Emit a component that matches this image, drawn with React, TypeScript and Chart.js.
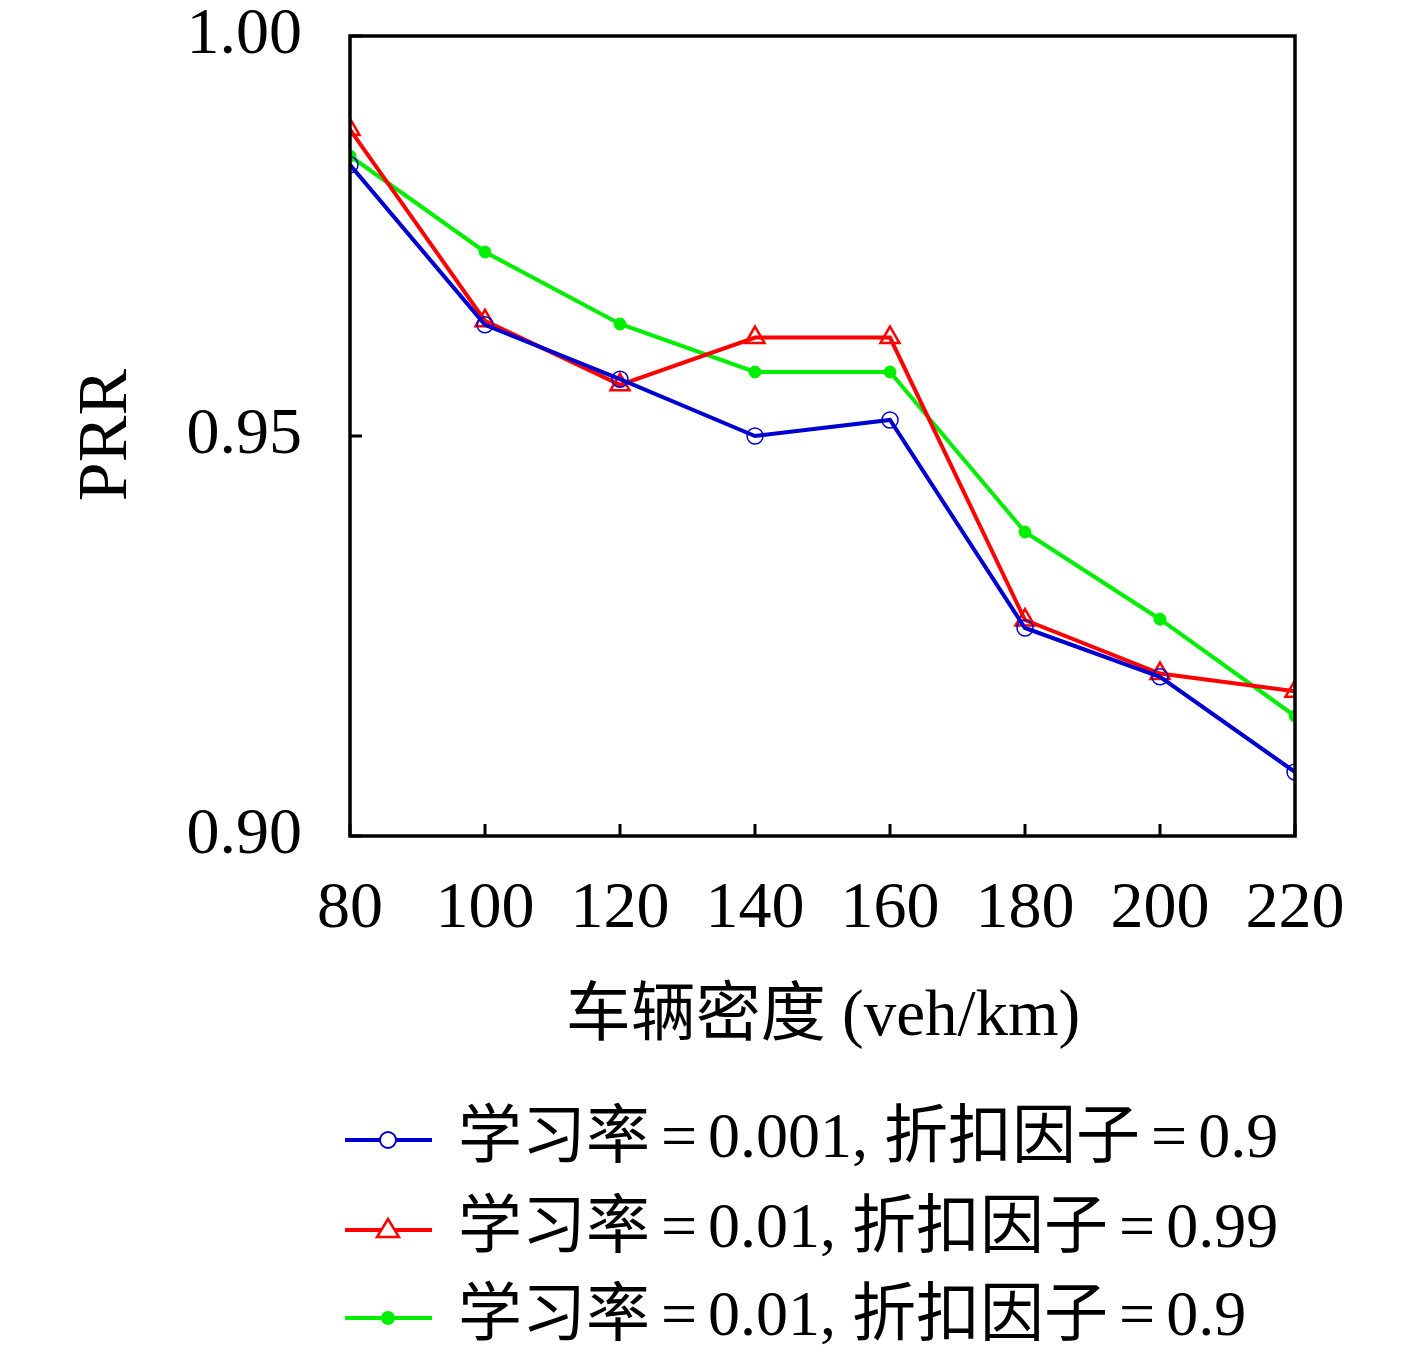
import React, { useEffect, useRef } from "react";
import { Chart, registerables } from "chart.js";

Chart.register(...registerables);

const densities = [80, 100, 120, 140, 160, 180, 200, 220];
const prrLr001Gamma09 = [0.9839, 0.9639, 0.9571, 0.95, 0.952, 0.926, 0.9199, 0.908];
const prrLr01Gamma099 = [0.9883, 0.9644, 0.9564, 0.9623, 0.9623, 0.927, 0.9203, 0.9181];
const prrLr01Gamma09 = [0.985, 0.973, 0.964, 0.958, 0.958, 0.938, 0.9271, 0.915];
const yTicks = [0.9, 0.95, 1.0];

const seriesNames = [
  "学习率=0.001, 折扣因子=0.9",
  "学习率=0.01, 折扣因子=0.99",
  "学习率=0.01, 折扣因子=0.9",
];
const markerKinds = ["openCircle", "openTriangle", "dot"];

const SERIF = "'Liberation Serif', 'DejaVu Serif', 'Noto Sans CJK SC', serif";
const MIXED = "'Liberation Serif', 'Noto Sans CJK SC', serif";

// draws text, giving "=" a bit of room like TeX math spacing
function spacedText(ctx: CanvasRenderingContext2D, text: string, x: number, y: number) {
  const parts = text.split("=");
  let cx = x;
  parts.forEach((p, i) => {
    if (i > 0) {
      cx += 11;
      ctx.fillText("=", cx, y);
      cx += ctx.measureText("=").width + 11;
    }
    ctx.fillText(p, cx, y);
    cx += ctx.measureText(p).width;
  });
}

const framePlugin = {
  id: "frame",
  afterDatasetsDraw(chart: any) {
    const { ctx, chartArea } = chart;
    const xs = chart.scales.x;
    const ys = chart.scales.y;
    ctx.save();
    ctx.strokeStyle = "#000";
    ctx.lineWidth = 3.5;
    ctx.strokeRect(chartArea.left, chartArea.top, chartArea.right - chartArea.left, chartArea.bottom - chartArea.top);
    ctx.lineWidth = 3;
    ctx.beginPath();
    densities.forEach((d) => {
      const px = xs.getPixelForValue(d);
      ctx.moveTo(px, chartArea.bottom);
      ctx.lineTo(px, chartArea.bottom - 12);
    });
    yTicks.forEach((v) => {
      const py = ys.getPixelForValue(v);
      ctx.moveTo(chartArea.left, py);
      ctx.lineTo(chartArea.left + 12, py);
    });
    ctx.stroke();

    // axis titles
    ctx.fillStyle = "#000";
    ctx.font = `65px ${MIXED}`;
    ctx.textAlign = "center";
    ctx.textBaseline = "middle";
    ctx.fillText("车辆密度 (veh/km)", 823, 1018);
    ctx.save();
    ctx.translate(108, 435);
    ctx.rotate(-Math.PI / 2);
    ctx.font = `70px ${SERIF}`;
    ctx.fillText("PRR", 0, 0);
    ctx.restore();

    // legend
    const rows = [1140, 1230, 1318];
    chart.data.datasets.forEach((ds: any, i: number) => {
      const y = rows[i];
      ctx.strokeStyle = ds.borderColor;
      ctx.lineWidth = 4;
      ctx.beginPath();
      ctx.moveTo(345, y);
      ctx.lineTo(432, y);
      ctx.stroke();
      const cx = 388;
      ctx.beginPath();
      if (markerKinds[i] === "openCircle") {
        ctx.arc(cx, y, 8, 0, Math.PI * 2);
        ctx.fillStyle = "#fff";
        ctx.fill();
        ctx.lineWidth = 2;
        ctx.stroke();
      } else if (markerKinds[i] === "openTriangle") {
        ctx.moveTo(cx, y - 11);
        ctx.lineTo(cx + 11, y + 7);
        ctx.lineTo(cx - 11, y + 7);
        ctx.closePath();
        ctx.fillStyle = "#fff";
        ctx.fill();
        ctx.lineWidth = 2.5;
        ctx.stroke();
      } else {
        ctx.arc(cx, y, 7, 0, Math.PI * 2);
        ctx.fillStyle = ds.borderColor;
        ctx.fill();
      }
      ctx.fillStyle = "#000";
      ctx.font = `64px ${MIXED}`;
      ctx.textAlign = "left";
      ctx.textBaseline = "middle";
      spacedText(ctx, seriesNames[i], 458, y);
    });
    ctx.restore();
  },
};

export default function App() {
  const canvasEl = useRef<HTMLCanvasElement>(null);

  useEffect(() => {
    document.body.style.margin = "0";
    if (!canvasEl.current) return;
    const ctx = canvasEl.current.getContext("2d");
    if (!ctx) return;

    const toPoints = (arr: number[]) => densities.map((d, i) => ({ x: d, y: arr[i] }));

    const chart = new Chart(ctx, {
      type: "line",
      data: {
        datasets: [
          {
            label: seriesNames[0],
            data: toPoints(prrLr001Gamma09),
            borderColor: "#0000d0",
            backgroundColor: "rgba(255,255,255,0)",
            borderWidth: 4,
            pointStyle: "circle",
            pointRadius: 8,
            pointBorderWidth: 1.5,
          },
          {
            label: seriesNames[1],
            data: toPoints(prrLr01Gamma099),
            borderColor: "#ff0000",
            backgroundColor: "rgba(255,255,255,0)",
            borderWidth: 4,
            pointStyle: "triangle",
            pointRadius: 11,
            pointBorderWidth: 2.5,
          },
          {
            label: seriesNames[2],
            data: toPoints(prrLr01Gamma09),
            borderColor: "#00ee00",
            backgroundColor: "#00ee00",
            borderWidth: 4,
            pointStyle: "circle",
            pointRadius: 6,
            pointBorderWidth: 1,
          },
        ],
      },
      options: {
        animation: false,
        responsive: false,
        devicePixelRatio: 1,
        layout: { padding: { left: 0, top: 36, right: 122, bottom: 0 } },
        plugins: { legend: { display: false }, tooltip: { enabled: false } },
        scales: {
          x: {
            type: "linear",
            min: 80,
            max: 220,
            afterBuildTicks: (s: any) => {
              s.ticks = densities.map((v) => ({ value: v }));
            },
            afterFit: (s: any) => {
              s.height = 1358 - 36 - 800;
              s.paddingLeft = 0;
              s.paddingRight = 0;
            },
            grid: { display: false, drawTicks: false },
            border: { display: false },
            ticks: {
              padding: 34,
              color: "#000",
              font: { family: SERIF, size: 66 },
              maxRotation: 0,
              autoSkip: false,
            },
          },
          y: {
            min: 0.9,
            max: 1.0,
            afterBuildTicks: (s: any) => {
              s.ticks = yTicks.map((v) => ({ value: v }));
            },
            afterFit: (s: any) => {
              s.width = 350;
              s.paddingTop = 0;
              s.paddingBottom = 0;
            },
            grid: { display: false, drawTicks: false },
            border: { display: false },
            ticks: {
              padding: 48,
              color: "#000",
              font: { family: SERIF, size: 66 },
              callback: (v: any) => Number(v).toFixed(2),
            },
          },
        },
      },
      plugins: [framePlugin],
    });

    return () => {
      chart.destroy();
    };
  }, []);

  return (
    <div style={{ width: 1417, height: 1358, background: "#fff" }}>
      <canvas ref={canvasEl} width={1417} height={1358} />
    </div>
  );
}
